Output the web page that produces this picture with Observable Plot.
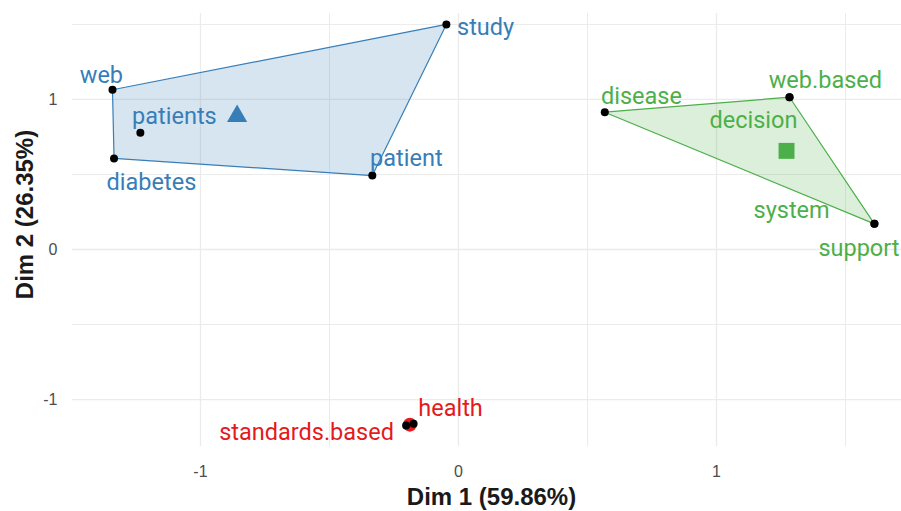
<!DOCTYPE html>
<html>
<head>
<meta charset="utf-8">
<script src="https://cdn.jsdelivr.net/npm/d3@7"></script>
<script src="https://cdn.jsdelivr.net/npm/@observablehq/plot@0.6"></script>
<style>
  html, body { margin: 0; padding: 0; background: #fff; }
  #chart { width: 901px; height: 511px; }
</style>
</head>
<body>
<div id="chart"></div>
<script>
// ---- data ----
const words   = ["web", "patients", "diabetes", "study", "patient",
                 "disease", "web.based", "decision", "system", "support",
                 "health", "standards.based"];
const dim1    = [-1.341, -1.233, -1.335, -0.047, -0.334,
                  0.567, 1.283, 1.283, 1.612, 1.612,
                 -0.174, -0.203];
const dim2    = [1.065, 0.778, 0.607, 1.500, 0.493,
                 0.915, 1.015, 1.015, 0.171, 0.171,
                -1.162, -1.173];
const cluster = ["1", "1", "1", "1", "1",
                 "2", "2", "2", "2", "2",
                 "3", "3"];
// repelled label positions (data units)
const labelDim1 = [-1.384, -1.101, -1.190, 0.105, -0.202,
                    0.709, 1.422, 1.143, 1.291, 1.552,
                   -0.031, -0.589];
const labelDim2 = [1.160, 0.887, 0.447, 1.480, 0.607,
                   1.020, 1.127, 0.860, 0.260, 0.007,
                  -1.060, -1.220];
const clusters = ["1", "2", "3"];
const clusterColors = ["#377EB8", "#4DAF4A", "#E41A1C"];
const xTicks = [-1, 0, 1];
const yTicks = [-1, 0, 1];
const xMinor = [-0.5, 0.5, 1.5];
const yMinor = [-0.5, 0.5, 1.5];
const xTitle = "Dim 1 (59.86%)";
const yTitle = "Dim 2 (26.35%)";

// ---- build table ----
const data = words.map((w, i) => ({
  word: w, x: dim1[i], y: dim2[i], cluster: cluster[i],
  lx: labelDim1[i], ly: labelDim2[i]
}));
const centroids = d3.groups(data, d => d.cluster).map(([c, rows]) => ({
  cluster: c, x: d3.mean(rows, d => d.x), y: d3.mean(rows, d => d.y)
}));

const gridColor = "#EBEBEB";
const tickColor = "#4D4D4D";
const labelFont = "Roboto, 'Liberation Sans', Arial, sans-serif";
const fmt = d => String(d);

const plot = Plot.plot({
  width: 901,
  height: 511,
  marginLeft: 72,
  marginRight: 0,
  marginTop: 13,
  marginBottom: 65,
  style: { fontFamily: "'Liberation Sans', Arial, sans-serif", background: "#fff", overflow: "visible" },
  x: { domain: [-1.496, 1.717] },
  y: { domain: [-1.313, 1.573] },
  color: { domain: clusters, range: clusterColors },
  marks: [
    Plot.ruleX(xMinor, { stroke: gridColor, strokeWidth: 1 }),
    Plot.ruleY(yMinor, { stroke: gridColor, strokeWidth: 1 }),
    Plot.ruleX(xTicks, { stroke: gridColor, strokeWidth: 1.3 }),
    Plot.ruleY(yTicks, { stroke: gridColor, strokeWidth: 1.3 }),
    Plot.axisX(xTicks, { tickSize: 0, tickPadding: 19, fontSize: 16, color: tickColor, label: null, tickFormat: fmt }),
    Plot.axisY(yTicks, { tickSize: 0, tickPadding: 15, fontSize: 16, color: tickColor, label: null, tickFormat: fmt }),
    Plot.hull(data, { x: "x", y: "y", z: "cluster", fill: "cluster", fillOpacity: 0.2, stroke: "cluster", strokeWidth: 1.2 }),
    Plot.dot(centroids.filter(d => d.cluster === "1"), { x: "x", y: "y", fill: "cluster", symbol: "triangle", r: 7.5 }),
    Plot.dot(centroids.filter(d => d.cluster === "2"), { x: "x", y: "y", fill: "cluster", symbol: "square", r: 9 }),
    Plot.dot(centroids.filter(d => d.cluster === "3"), { x: "x", y: "y", fill: "cluster", symbol: "circle", r: 7 }),
    Plot.dot(data, { x: "x", y: "y", fill: "black", r: 4 }),
    Plot.text(data, { x: "lx", y: "ly", text: "word", fill: "cluster", fontSize: 23.5, fontFamily: labelFont, textAnchor: "middle", lineAnchor: "middle" }),
    Plot.text([xTitle], { text: d => d, frameAnchor: "bottom", dx: 4.5, dy: 51, fontSize: 24, fontWeight: "bold", fill: "#1a1a1a", textAnchor: "middle", lineAnchor: "middle" }),
    Plot.text([yTitle], { text: d => d, frameAnchor: "left", dx: -47, dy: -15.5, rotate: -90, fontSize: 24, fontWeight: "bold", fill: "#1a1a1a", textAnchor: "middle", lineAnchor: "middle" })
  ]
});
document.getElementById("chart").appendChild(plot);
</script>
</body>
</html>
